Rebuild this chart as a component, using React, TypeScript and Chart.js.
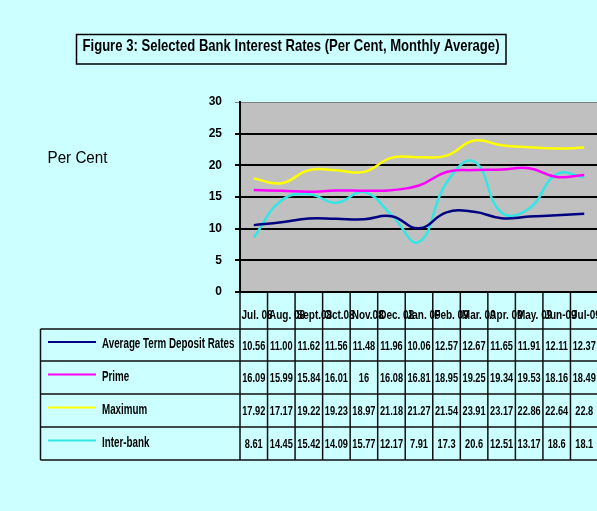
import React, { useEffect, useRef } from "react";
import { Chart, registerables } from "chart.js";

Chart.register(...registerables);

const months = ["Jul. 08", "Aug. 08", "Sept.08", "Oct.08", "Nov.08", "Dec. 08", "Jan. 09", "Feb. 09", "Mar. 09", "Apr. 09", "May. 09", "Jun-09", "Jul-09"];
const depositRates = [10.56, 11.0, 11.62, 11.56, 11.48, 11.96, 10.06, 12.57, 12.67, 11.65, 11.91, 12.11, 12.37];
const primeRates = [16.09, 15.99, 15.84, 16.01, 16, 16.08, 16.81, 18.95, 19.25, 19.34, 19.53, 18.16, 18.49];
const maximumRates = [17.92, 17.17, 19.22, 19.23, 18.97, 21.18, 21.27, 21.54, 23.91, 23.17, 22.86, 22.64, 22.8];
const interbankRates = [8.61, 14.45, 15.42, 14.09, 15.77, 12.17, 7.91, 17.3, 20.6, 12.51, 13.17, 18.6, 18.1];
const yTicks = [0, 5, 10, 15, 20, 25, 30];

const TITLE = "Figure 3: Selected Bank Interest Rates (Per Cent, Monthly Average)";
const Y_LABEL = "Per Cent";
const SANS = '"Liberation Sans", Arial, sans-serif';

const seriesDefs = [
  { label: "Average Term Deposit Rates", data: depositRates, color: "#000080", fixed2: true },
  { label: "Prime", data: primeRates, color: "#ff00ff", fixed2: false },
  { label: "Maximum", data: maximumRates, color: "#ffff00", fixed2: false },
  { label: "Inter-bank", data: interbankRates, color: "#33e6e6", fixed2: false },
];

function drawText(ctx: CanvasRenderingContext2D, s: string, x: number, y: number, font: string, sx: number, align: CanvasTextAlign) {
  ctx.save();
  ctx.font = font;
  ctx.textAlign = align;
  ctx.textBaseline = "alphabetic";
  ctx.translate(x, y);
  ctx.scale(sx, 1);
  ctx.fillText(s, 0, 0);
  ctx.restore();
}

function fitScale(ctx: CanvasRenderingContext2D, s: string, font: string, width: number) {
  ctx.save();
  ctx.font = font;
  const w = ctx.measureText(s).width;
  ctx.restore();
  return w > 0 ? width / w : 1;
}

const tablePlugin = {
  id: "tablePlugin",
  beforeDraw(chart: any) {
    const { ctx, chartArea } = chart;
    ctx.save();
    ctx.fillStyle = "#c0c0c0";
    ctx.fillRect(chartArea.left, chartArea.top, chartArea.right - chartArea.left, chartArea.bottom - chartArea.top);
    ctx.restore();
  },
  afterDraw(chart: any) {
    const { ctx, chartArea } = chart;
    const xs = chart.scales.x;
    const n = months.length;
    const w = xs.getPixelForValue(1) - xs.getPixelForValue(0);
    const headerTop = chartArea.bottom;
    const rowTops = [329, 361, 394, 427, 460];
    const tableLeft = 40.5;
    ctx.save();
    ctx.fillStyle = "#000";

    // title
    ctx.strokeStyle = "#000";
    ctx.lineWidth = 1.5;
    ctx.strokeRect(76.5, 34.5, 429.5, 29.5);
    const titleFont = `bold 17px ${SANS}`;
    drawText(ctx, TITLE, 291, 50.7, titleFont, fitScale(ctx, TITLE, titleFont, 417), "center");

    // y label
    const ylFont = `17px ${SANS}`;
    drawText(ctx, Y_LABEL, 47.5, 163.3, ylFont, fitScale(ctx, Y_LABEL, ylFont, 60), "left");

    // table lines
    ctx.strokeStyle = "#111";
    ctx.lineWidth = 1.5;
    ctx.beginPath();
    for (let i = 0; i <= n; i++) {
      const bx = xs.getPixelForValue(i) - w / 2;
      ctx.moveTo(bx, headerTop);
      ctx.lineTo(bx, rowTops[rowTops.length - 1]);
    }
    for (const y of rowTops) {
      ctx.moveTo(tableLeft, y);
      ctx.lineTo(chart.width, y);
    }
    ctx.moveTo(tableLeft, rowTops[0]);
    ctx.lineTo(tableLeft, rowTops[rowTops.length - 1]);
    ctx.stroke();

    // header labels (left aligned, overlapping like the original)
    const headFont = `bold 12.5px ${SANS}`;
    months.forEach((m, i) => {
      const left = xs.getPixelForValue(i) - w / 2 + 1.5;
      drawText(ctx, m, left, 318.7, headFont, 0.8, "left");
    });

    // rows
    seriesDefs.forEach((s, r) => {
      const top = rowTops[r];
      const bottom = rowTops[r + 1];
      const mid = (top + bottom) / 2;
      ctx.strokeStyle = s.color;
      ctx.lineWidth = 2;
      ctx.beginPath();
      ctx.moveTo(48, mid - 3);
      ctx.lineTo(96, mid - 3);
      ctx.stroke();
      drawText(ctx, s.label, 102, mid + 3, `bold 14px ${SANS}`, 0.7, "left");
      s.data.forEach((v, i) => {
        const txt = s.fixed2 ? v.toFixed(2) : String(v);
        drawText(ctx, txt, xs.getPixelForValue(i), mid + 4.5, `bold 13px ${SANS}`, 0.71, "center");
      });
    });
    ctx.restore();
  },
};

export default function App() {
  const ref = useRef<HTMLCanvasElement | null>(null);
  useEffect(() => {
    if (!ref.current) return;
    const chart = new Chart(ref.current, {
      type: "line",
      data: {
        labels: months,
        datasets: seriesDefs.map((s) => ({
          label: s.label,
          data: s.data,
          borderColor: s.color,
          backgroundColor: s.color,
          borderWidth: 2.5,
          pointRadius: 0,
          tension: 0.45,
          fill: false,
        })),
      },
      options: {
        animation: false,
        responsive: false,
        devicePixelRatio: 1,
        layout: { padding: { left: 200, top: 102, right: 2, bottom: 219 } },
        plugins: { legend: { display: false }, tooltip: { enabled: false }, title: { display: false } },
        scales: {
          x: {
            display: false,
            offset: true,
          },
          y: {
            min: 0,
            max: 30,
            afterFit: (s: any) => {
              s.width = 40;
            },
            afterBuildTicks: (s: any) => {
              s.ticks = yTicks.map((v) => ({ value: v }));
            },
            ticks: {
              color: "#000",
              padding: 13,
              font: { family: SANS, size: 12, weight: "bold" },
            },
            grid: {
              color: (c: any) => (c.tick && c.tick.value === 30 ? "#808080" : "#000"),
              lineWidth: (c: any) => (c.tick && c.tick.value === 30 ? 1 : 2),
              tickLength: 5,
            },
            border: { display: true, color: "#000", width: 2 },
          },
        },
      },
      plugins: [tablePlugin],
    });
    return () => chart.destroy();
  }, []);
  return (
    <div style={{ position: "fixed", left: 0, top: 0, width: 597, height: 511, overflow: "hidden", background: "#ccffff" }}>
      <canvas ref={ref} width={600} height={511} style={{ display: "block", width: 600, height: 511 }} />
    </div>
  );
}
